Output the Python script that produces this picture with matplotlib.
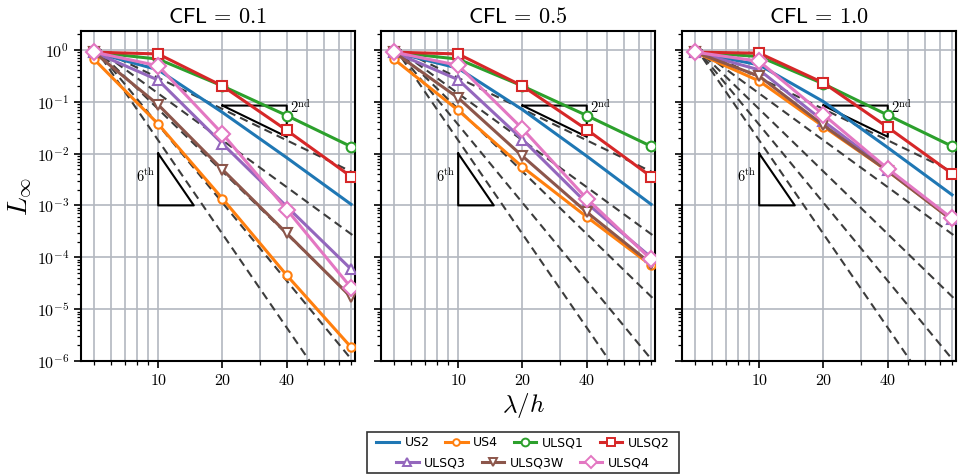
import numpy as np
import matplotlib
matplotlib.use("Agg")
import matplotlib.pyplot as plt
from matplotlib.lines import Line2D
from matplotlib.patches import Rectangle
from matplotlib.ticker import FuncFormatter, LogLocator, NullFormatter

plt.rcParams['mathtext.fontset'] = 'cm'
plt.rcParams['font.family'] = ['DejaVu Sans']

# ---------------- data ----------------
resolutions = [5, 10, 20, 40, 80]
cfl_titles = [r'$\mathsf{CFL}\,=\,0.1$', r'$\mathsf{CFL}\,=\,0.5$', r'$\mathsf{CFL}\,=\,1.0$']
schemes = ['US2', 'US4', 'ULSQ1', 'ULSQ2', 'ULSQ3', 'ULSQ3W', 'ULSQ4']

# errors per CFL panel (CFL=0.1, 0.5, 1.0)
us2 = [[0.90, 0.41, 0.062, 0.0083, 1.05e-3],
       [0.90, 0.44, 0.070, 0.0089, 1.05e-3],
       [0.90, 0.51, 0.100, 0.0130, 1.6e-3]]
us4 = [[0.66, 0.037, 1.35e-3, 4.5e-5, 1.85e-6],
       [0.66, 0.068, 5.5e-3, 6.0e-4, 7.0e-5],
       [0.90, 0.25, 0.033, 4.6e-3, 5.3e-4]]
ulsq1 = [[0.90, 0.66, 0.20, 0.054, 0.0136],
         [0.90, 0.66, 0.20, 0.054, 0.0138],
         [0.90, 0.74, 0.22, 0.055, 0.0138]]
ulsq2 = [[0.90, 0.83, 0.20, 0.028, 3.6e-3],
         [0.90, 0.83, 0.20, 0.029, 3.6e-3],
         [0.90, 0.86, 0.23, 0.032, 4.1e-3]]
ulsq3 = [[0.90, 0.26, 0.0154, 9.5e-4, 5.9e-5],
         [0.90, 0.265, 0.0186, 1.1e-3, 1.0e-4],
         [0.90, 0.41, 0.042, 4.9e-3, 5.4e-4]]
ulsq3w = [[0.90, 0.087, 4.9e-3, 2.9e-4, 1.7e-5],
          [0.90, 0.118, 8.9e-3, 7.4e-4, 7.5e-5],
          [0.90, 0.31, 0.035, 4.6e-3, 5.2e-4]]
ulsq4 = [[0.90, 0.49, 0.024, 8.3e-4, 2.6e-5],
         [0.90, 0.50, 0.030, 1.35e-3, 9.1e-5],
         [0.90, 0.60, 0.056, 5.1e-3, 5.6e-4]]

ref_orders = [2, 3, 4, 5, 6]
ref_start = 1.15
xticks = [10, 20, 40]
xticklabels = ['10', '20', '40']

# ---------------- styles ----------------
series = [us2, us4, ulsq1, ulsq2, ulsq3, ulsq3w, ulsq4]
colors = ['#1f77b4', '#ff7f0e', '#2ca02c', '#d62728', '#9467bd', '#8c564b', '#e377c2']
markers = [None, 'o', 'o', 's', '^', 'v', 'D']
msizes = [0, 6, 7, 7.5, 7.5, 7.5, 8]

W, H = 959, 474
fig = plt.figure(figsize=(W / 100, H / 100), dpi=100)
lefts = [81, 381, 682]
aw = 274
top, bot = 31, 361
axes = []
grid_color = '#b3b8c0'
yfmt = FuncFormatter(lambda v, pos: r'$10^{%d}$' % int(round(np.log10(v))))
for i in range(3):
    ax = fig.add_axes([lefts[i] / W, 1 - bot / H, aw / W, (bot - top) / H])
    axes.append(ax)
    ax.set_xscale('log')
    ax.set_yscale('log')
    ax.set_xlim(4.35, 83.5)
    ax.set_ylim(1e-6, 2.3)
    ax.set_axisbelow(True)
    ax.grid(True, which='major', axis='both', color=grid_color, lw=1.2)
    ax.grid(True, which='minor', axis='x', color=grid_color, lw=1.2)
    ax.set_xticks(xticks)
    ax.set_xticklabels([r'$%s$' % t for t in xticklabels])
    ax.tick_params(which='both', direction='out', color='black', labelsize=11.5)
    ax.tick_params(which='major', length=5, width=1.2)
    ax.tick_params(which='minor', length=3, width=0.9)
    ax.xaxis.set_minor_formatter(NullFormatter())
    ax.yaxis.set_major_locator(LogLocator(base=10, numticks=20))
    ax.yaxis.set_minor_locator(LogLocator(base=10, subs=np.arange(2, 10), numticks=20))
    ax.yaxis.set_minor_formatter(NullFormatter())
    if i == 0:
        ax.yaxis.set_major_formatter(yfmt)
    else:
        ax.set_yticklabels([])
    for sp in ax.spines.values():
        sp.set_linewidth(1.5)
    ax.set_title(cfl_titles[i], fontsize=16, pad=6)

    # reference slopes
    xr = np.array([resolutions[0], 90.0])
    for p in ref_orders:
        ax.plot(xr, ref_start * (xr / resolutions[0]) ** (-p), ls=(0, (4, 2.5)),
                color='#3c3c3c', lw=1.5, zorder=1.5)

    for s, c, m, ms in zip(series, colors, markers, msizes):
        ax.plot(resolutions, s[i], color=c, lw=2.2, marker=m, ms=ms,
                mfc='white', mec=c, mew=1.5, zorder=3)

    # slope triangles
    ax.plot([20, 40, 40, 20], [0.084, 0.084, 0.021, 0.084], color='black', lw=1.5, zorder=2.5)
    ax.text(41.5, 0.078, r'$2^{\mathrm{nd}}$', fontsize=10.5, ha='left', va='center', zorder=4)
    x6 = 10 * 10 ** (1 / 6)
    ax.plot([10, 10, x6, 10], [1e-2, 1e-3, 1e-3, 1e-2], color='black', lw=1.5, zorder=2.5)
    ax.text(8.7, 3.6e-3, r'$6^{\mathrm{th}}$', fontsize=10.5, ha='center', va='center', zorder=4)

axes[0].set_ylabel(r'$L_\infty$', fontsize=20, labelpad=2)
fig.text(523 / W, 1 - 405 / H, r'$\lambda/h$', fontsize=18, ha='center', va='center')

# legend
handles = []
for name, c, m, ms in zip(schemes, colors, markers, msizes):
    handles.append(Line2D([], [], color=c, lw=2.2, marker=m, ms=ms * 0.8, mfc='white', mec=c, mew=1.4))
kw = dict(frameon=False, fontsize=9, handlelength=1.8, handletextpad=0.45,
          columnspacing=1.25, borderpad=0.1, loc='center')
fig.legend(handles[:4], schemes[:4], ncol=4, bbox_to_anchor=(523 / W, 1 - 442.5 / H), **kw)
fig.legend(handles[4:], schemes[4:], ncol=3, bbox_to_anchor=(523 / W, 1 - 462.5 / H), **kw)
fig.patches.append(Rectangle((367 / W, 1 - 473 / H), (679 - 367) / W, 41 / H,
                             transform=fig.transFigure, fill=False, ec='#333333', lw=1.2))

fig.savefig('out.png', dpi=100)
